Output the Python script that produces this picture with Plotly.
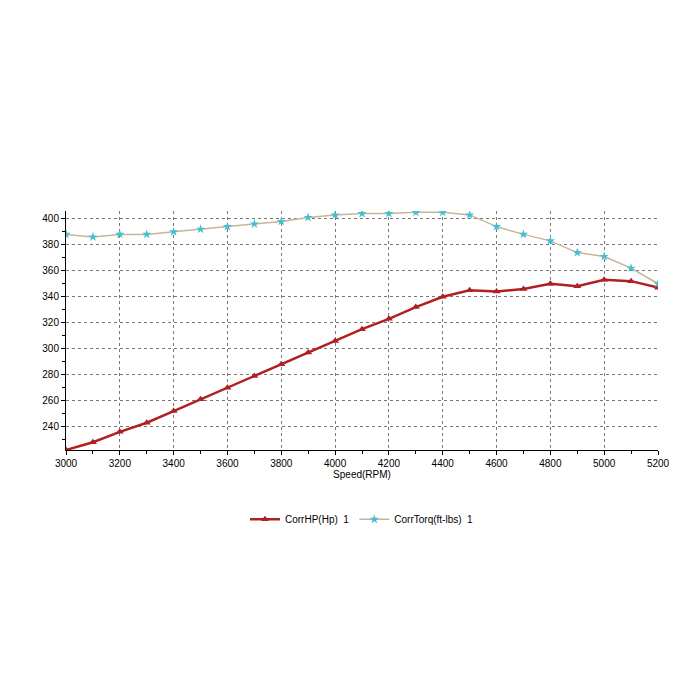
import plotly.graph_objects as go

rpm = list(range(3000, 5201, 100))
hp = [222, 228, 236, 243, 252, 261, 270, 279, 288, 297, 306, 315, 323, 332, 340,
      345, 344, 346, 350, 348, 353, 352, 347]
torque = [388, 386, 388, 388, 390, 392, 394, 396, 398, 401, 403, 404, 404, 405, 405,
          403, 394, 388, 383, 374, 371, 362, 350]

fig = go.Figure()
fig.add_trace(go.Scatter(x=rpm, y=hp, name="CorrHP(Hp)  1", mode="lines+markers",
                         line=dict(color="#b02020", width=2.5),
                         marker=dict(symbol="triangle-up", size=7, color="#b02020")))
fig.add_trace(go.Scatter(x=rpm, y=torque, name="CorrTorq(ft-lbs)  1", mode="lines+markers",
                         line=dict(color="#c8b49a", width=1.5),
                         marker=dict(symbol="star", size=7, color="#40c0d0")))
grid = dict(showgrid=True, gridcolor="#777", griddash="dot", gridwidth=1,
            showline=True, linecolor="black", linewidth=1, ticks="outside",
            ticklen=4, tickcolor="black", zeroline=False, automargin=False,
            tickfont=dict(family="Liberation Sans", size=10, color="black"))
fig.update_xaxes(range=[3000, 5200], dtick=200, title=dict(text="Speed(RPM)", standoff=2,
                 font=dict(family="Liberation Sans", size=10, color="black")),
                 minor=dict(dtick=100, ticks="outside", ticklen=3, tickcolor="black"), **grid)
fig.update_yaxes(range=[222, 406], tickvals=[240, 260, 280, 300, 320, 340, 360, 380, 400],
                 minor=dict(dtick=10, ticks="outside", ticklen=3, tickcolor="black"), **grid)
fig.update_layout(width=700, height=700, paper_bgcolor="white", plot_bgcolor="white",
                  margin=dict(l=58, r=50, t=203, b=258),
                  legend=dict(orientation="h", x=0.5, xanchor="center", y=-0.29, yanchor="middle",
                              font=dict(family="Liberation Sans", size=10, color="black")),
                  showlegend=True)
fig.write_html("out.html")
